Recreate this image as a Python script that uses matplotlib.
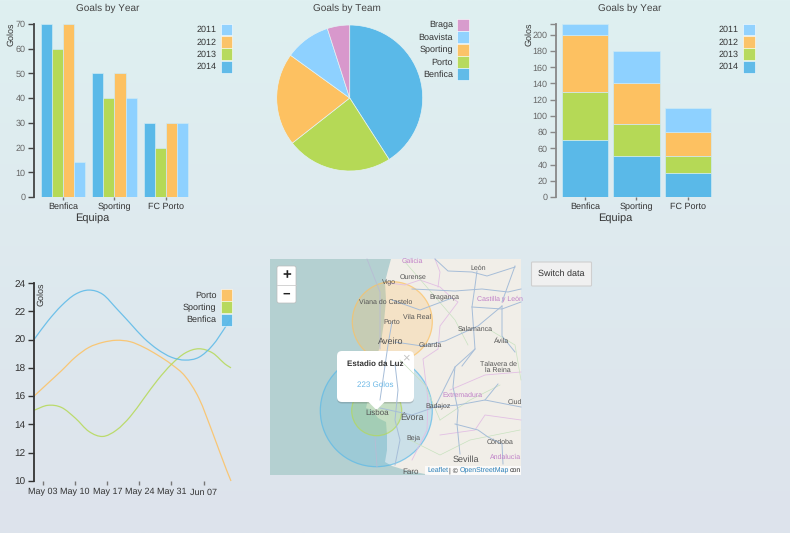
""" Dashboard: goals by year, by team, over time, and the stadium map. """

""" IMPORTS """
import numpy as np
import pandas as pd
import matplotlib
matplotlib.use("Agg")
import matplotlib.pyplot as plt
import matplotlib.dates as mdates
from matplotlib.path import Path
from matplotlib.patches import Rectangle, Circle, Polygon, FancyBboxPatch, PathPatch


""" DATA """
teams = ["Benfica", "Sporting", "FC Porto"]
years = ["2014", "2013", "2012", "2011"]
goals_2014 = [70, 50, 30]
goals_2013 = [60, 40, 20]
goals_2012 = [70, 50, 30]
goals_2011 = [14, 40, 30]

pie_teams = ["Benfica", "Porto", "Sporting", "Boavista", "Braga"]
pie_goals = [223, 128, 112, 55, 27]

# one reading every 3 days from May 1st, last one Jun 13
line_days = [0, 3, 6, 9, 12, 15, 18, 21, 24, 27, 30, 33, 36, 39, 42, 43]
benfica = [20, 21.3, 22.4, 23.2, 23.5, 23.2, 22.2, 21.15, 20.1, 19.3, 18.75, 18.55, 18.75, 19.6, 21.0, 21.5]
sporting = [15, 15.35, 15.2, 14.45, 13.5, 13.15, 13.6, 14.55, 15.85, 17.15, 18.25, 19.05, 19.35, 19.05, 18.2, 18]
porto = [16, 16.9, 17.8, 18.75, 19.45, 19.8, 19.95, 19.85, 19.45, 18.9, 18.25, 17.4, 15.85, 13.4, 10.8, 10]

W, H = 790, 533
BLUE, GREEN, ORANGE, SKY, PINK = "#5ab9e8", "#b5d956", "#fdc161", "#8ed1ff", "#d898cc"
year_colors = [BLUE, GREEN, ORANGE, SKY]
team_colors = [BLUE, GREEN, ORANGE, SKY, PINK]
DARK = "#333333"
MAP_TEXT = "#555555"
MAP_PURPLE = "#c080c8"

# map geometry, in figure pixels
coast = [(391, 259), (388, 270), (385, 282), (386, 300), (384, 322), (381, 342), (376, 360), (372, 378),
         (369, 395), (366, 408), (372, 410), (378, 418), (386, 422), (387, 435), (387, 450), (385, 462),
         (392, 466), (405, 470), (420, 473), (430, 475), (521, 475), (521, 259)]
blue_roads = [
    [(435, 259), (448, 271), (472, 272), (487, 276), (515, 267)],
    [(477, 271), (475, 286), (472, 307), (475, 349), (462, 366)],
    [(412, 289), (455, 291), (482, 289), (508, 292), (521, 289)],
    [(472, 307), (502, 309), (521, 302)],
    [(502, 306), (478, 326), (445, 341), (422, 346), (395, 342)],
    [(502, 306), (502, 336), (515, 352)],
    [(515, 266), (502, 302)],
    [(455, 367), (453, 387), (458, 410), (457, 424), (460, 454)],
    [(455, 424), (478, 430), (488, 437), (502, 444), (503, 464)],
    [(435, 407), (458, 405), (485, 400), (521, 407)],
    [(498, 384), (485, 400)],
    [(475, 349), (455, 367), (435, 407)],
    [(395, 364), (398, 390), (395, 420), (400, 440), (395, 465)],
    [(380, 408), (412, 415), (438, 406)],
    [(392, 322), (388, 345), (380, 400)],
    [(392, 300), (420, 310), (452, 298)],
]
green_roads = [
    [(405, 262), (425, 285), (455, 320), (468, 345)],
    [(490, 330), (515, 345), (521, 380)],
    [(440, 420), (470, 400), (500, 385)],
    [(410, 440), (440, 455), (470, 440), (520, 430)],
    [(400, 360), (425, 385), (440, 420)],
]
pink_borders = [
    [(388, 283), (405, 285), (420, 280), (440, 287), (452, 298), (458, 302), (440, 326), (438, 349),
     (423, 359), (428, 400), (427, 430), (412, 460)],
    [(435, 259), (440, 272), (438, 287)],
    [(450, 390), (485, 375), (521, 372)],
    [(440, 435), (475, 430), (485, 415), (521, 420)],
]
sea_border = [[(367, 259), (380, 292), (380, 349)], [(375, 437), (377, 467)]]
map_labels = [
    ("Galicia", 412, 261, 5, MAP_PURPLE), ("Ourense", 413, 277, 5, MAP_TEXT), ("Vigo", 389, 282, 5, MAP_TEXT),
    ("León", 478, 268, 5, MAP_TEXT), ("Viana do Castelo", 386, 302, 5, MAP_TEXT), ("Bragança", 444, 298, 5, MAP_TEXT),
    ("Castilla y León", 500, 299, 5, MAP_PURPLE), ("Vila Real", 417, 317, 5, MAP_TEXT), ("Porto", 392, 322, 5, MAP_TEXT),
    ("Salamanca", 475, 329, 5, MAP_TEXT), ("Aveiro", 391, 342, 6.5, MAP_TEXT), ("Guarda", 430, 345, 5, MAP_TEXT),
    ("Ávila", 502, 341, 5, MAP_TEXT), ("Talavera de", 498, 364, 5, MAP_TEXT), ("la Reina", 498, 370, 5, MAP_TEXT),
    ("Lisboa", 377, 413, 6, MAP_TEXT), ("Évora", 412, 418, 6.5, MAP_TEXT), ("Badajoz", 438, 406, 5, MAP_TEXT),
    ("Extremadura", 462, 395, 5, MAP_PURPLE), ("Ciud", 515, 402, 5, MAP_TEXT), ("Beja", 413, 438, 5, MAP_TEXT),
    ("Córdoba", 500, 442, 5, MAP_TEXT), ("Andalucía", 506, 457, 5, MAP_PURPLE), ("Sevilla", 466, 460, 6.5, MAP_TEXT),
    ("Faro", 411, 472, 6, MAP_TEXT),
]
stadiums = [(392.3, 321.7, 40, ORANGE), (376.3, 410.7, 56, BLUE), (376.7, 410.7, 25, GREEN)]


""" FUNCTIONS """
def ax_px(fig, left, top, right, bottom, **kwargs):
    ax = fig.add_axes([left / W, 1 - bottom / H, (right - left) / W, (bottom - top) / H], **kwargs)
    ax.patch.set_alpha(0)
    return ax


def style_axis(ax, color):
    for side in ("top", "right"):
        ax.spines[side].set_visible(False)
    ax.spines["left"].set_color(color)
    ax.spines["left"].set_linewidth(1.3)
    ax.tick_params(axis="y", which="both", length=4, width=1, color=color, labelsize=6.5, labelcolor="#666666", pad=2)


def swatches(top_ax, names, colors, x, y0, step, gap=4):
    for k, (name, color) in enumerate(zip(names, colors)):
        top_ax.add_patch(Rectangle((x, y0 + k * step), 11.5, step - 0.5, fc=color, ec="white", lw=0.4, alpha=0.95))
        top_ax.text(x - gap, y0 + k * step + step / 2, name, ha="right", va="center", fontsize=6.5, color=DARK)


def bar_frame(ax):
    ax.spines["bottom"].set_visible(False)
    ax.set_xticks(range(len(teams)), teams)
    ax.tick_params(axis="x", length=2, width=1, color="#777777", labelsize=6.5, labelcolor=DARK, pad=2)


# The original curves are smoothed, so the readings are joined with bezier segments.
def smooth_line(ax, days, values, color):
    x = mdates.date2num(pd.Timestamp("2014-05-01") + pd.to_timedelta(days, unit="D"))
    y = np.array(values, dtype=float)
    slopes = np.gradient(y, x)
    verts = [(x[0], y[0])]
    codes = [Path.MOVETO]
    for i in range(len(x) - 1):
        dx = (x[i + 1] - x[i]) / 3
        verts += [(x[i] + dx, y[i] + slopes[i] * dx),
                  (x[i + 1] - dx, y[i + 1] - slopes[i + 1] * dx),
                  (x[i + 1], y[i + 1])]
        codes += [Path.CURVE4] * 3
    ax.add_patch(PathPatch(Path(verts, codes), fc="none", ec=color, lw=0.9, alpha=0.85, clip_on=False))


""" FIGURE """
plt.rcParams["font.family"] = ["Liberation Sans", "DejaVu Sans"]
plt.rcParams["text.hinting"] = "no_hinting"
plt.rcParams["text.hinting_factor"] = 1
fig = plt.figure(figsize=(W / 100, H / 100), dpi=100)

# page gradient, top to bottom
bg = ax_px(fig, 0, 0, W, H, zorder=0)
bg.axis("off")
top_rgb, bot_rgb = np.array([223, 240, 241]) / 255, np.array([221, 227, 236]) / 255
ramp = np.linspace(0, 1, 256)[:, None, None]
bg.imshow(top_rgb + (bot_rgb - top_rgb) * ramp, aspect="auto", extent=[0, W, H, 0])

# overlay in figure pixels, for the titles, legends and the map
top = ax_px(fig, 0, 0, W, H, zorder=3)
top.set_xlim(0, W)
top.set_ylim(H, 0)
top.axis("off")

# grouped bars
ax1 = ax_px(fig, 34, 24, 195, 197, zorder=1)
group = [goals_2014, goals_2013, goals_2012, goals_2011]
bar_w = 0.216
for k, values in enumerate(group):
    xs = np.arange(len(teams)) + (k - 1.5) * bar_w
    ax1.bar(xs, values, bar_w, color=year_colors[k], edgecolor="#cdeaf5", linewidth=0.5)
ax1.set_xlim(-0.563, 2.563)
ax1.set_ylim(0, 70)
ax1.set_yticks(range(0, 71, 10))
style_axis(ax1, "#444444")
bar_frame(ax1)

# pie
ax2 = ax_px(fig, 276.7, 25, 422.7, 171, zorder=1)
ax2.pie(pie_goals, colors=team_colors, startangle=90, counterclock=False, radius=1,
        wedgeprops={"edgecolor": "#e4f2f4", "linewidth": 0.5})
ax2.set_xlim(-1, 1)
ax2.set_ylim(-1, 1)

# stacked bars
ax3 = ax_px(fig, 555.7, 23.5, 717, 197, zorder=1)
bottom = np.zeros(len(teams))
for k, values in enumerate(group):
    ax3.bar(range(len(teams)), values, 0.895, bottom=bottom, color=year_colors[k], edgecolor="#cdeaf5", linewidth=0.5)
    bottom += np.array(values)
ax3.set_xlim(-0.57, 2.565)
ax3.set_ylim(0, 214)
ax3.set_yticks(range(0, 201, 20))
ax3.set_yticks([214], minor=True)
style_axis(ax3, "#888888")
bar_frame(ax3)

# lines
ax4 = ax_px(fig, 34, 283, 231, 481, zorder=1)
ax4.set_xlim(pd.Timestamp("2014-05-01"), pd.Timestamp("2014-06-13"))
ax4.set_ylim(10, 24)
smooth_line(ax4, line_days, porto, ORANGE)
smooth_line(ax4, line_days, sporting, GREEN)
smooth_line(ax4, line_days, benfica, BLUE)
ax4.set_yticks(range(10, 25, 2))
style_axis(ax4, "#333333")
ax4.tick_params(axis="y", labelcolor=DARK, labelsize=7)
ax4.spines["bottom"].set_visible(False)
ax4.set_xticks(pd.date_range("2014-05-03", "2014-06-07", freq="7D"))
ax4.xaxis.set_major_formatter(mdates.DateFormatter("%b %d"))
ax4.tick_params(axis="x", length=3, width=1, color="#777777", labelsize=6.5, labelcolor=DARK, pad=2)

# titles and axis names
for x, title in [(108, "Goals by Year"), (347, "Goals by Team"), (630, "Goals by Year")]:
    top.text(x, 8, title, ha="center", va="center", fontsize=7.5, color="#444444")
for x in (92, 615):
    top.text(x, 218.5, "Equipa", ha="center", va="center", fontsize=8, color=DARK)
top.text(11.5, 34, "Golos", rotation=90, ha="center", va="center", fontsize=6.5, color=DARK)
top.text(529, 34, "Golos", rotation=90, ha="center", va="center", fontsize=6.5, color=DARK)
top.text(41, 294, "Golos", rotation=90, ha="center", va="center", fontsize=6.5, color=DARK)

# legends
legend_years = years[::-1]
legend_colors = year_colors[::-1]
swatches(top, legend_years, legend_colors, 220.5, 23.5, 12.4)
swatches(top, legend_years, legend_colors, 743, 23.5, 12.4)
swatches(top, pie_teams[::-1], team_colors[::-1], 457, 19, 12.35)
swatches(top, ["Porto", "Sporting", "Benfica"], [ORANGE, GREEN, BLUE], 220.5, 289, 12.4)

# map
top.add_patch(Rectangle((270, 259), 251, 216, fc="#b4d0d1", ec="none"))
top.add_patch(Polygon(coast, fc="#f1eee8", ec="none"))
for road in sea_border:
    top.plot(*zip(*road), color="#b8bcd4", lw=0.6)
for road in pink_borders:
    top.plot(*zip(*road), color="#e2bfe4", lw=0.6)
for road in green_roads:
    top.plot(*zip(*road), color="#c8e2c0", lw=0.5)
for road in blue_roads:
    top.plot(*zip(*road), color="#a6bdd8", lw=0.7)
for name, x, y, size, color in map_labels:
    top.text(x, y, name, ha="center", va="center", fontsize=size, color=color)
for x, y, r, color in stadiums:
    top.add_patch(Circle((x, y), r, fc=color, ec="none", alpha=0.25))
    top.add_patch(Circle((x, y), r, fc="none", ec=color, lw=0.9, alpha=0.7))

# zoom control
top.add_patch(FancyBboxPatch((277, 266), 19, 37, boxstyle="round,pad=0,rounding_size=2", fc="white", ec="#bbbbbb", lw=0.5))
top.plot([277, 296], [284.5, 284.5], color="#cccccc", lw=0.6)
top.text(286.5, 275, "+", ha="center", va="center", fontsize=11, fontweight="bold", color="#222222")
top.text(286.5, 294, "−", ha="center", va="center", fontsize=9, fontweight="bold", color="#222222")

# popup
top.add_patch(FancyBboxPatch((337, 352.5), 77, 51, boxstyle="round,pad=0,rounding_size=5", fc="#555555", ec="none", alpha=0.25))
top.add_patch(FancyBboxPatch((337, 351), 77, 51, boxstyle="round,pad=0,rounding_size=5", fc="white", ec="none"))
top.add_patch(Polygon([(368.5, 402), (384.5, 402), (376.5, 410)], fc="white", ec="none"))
top.text(375.5, 364, "Estadio da Luz", ha="center", va="center", fontsize=5.5, fontweight="bold", color=DARK)
top.text(375.5, 385, "223 Golos", ha="center", va="center", fontsize=5.5, color="#6cb8e6")
top.text(406, 358, "×", ha="center", va="center", fontsize=9, color="#c4c4c4")

# attribution
top.add_patch(Rectangle((425, 466), 96, 9, fc="white", ec="none", alpha=0.75))
top.text(427, 470.5, "Leaflet", ha="left", va="center", fontsize=5, color="#2a7fb8")
top.text(449, 470.5, "| ©", ha="left", va="center", fontsize=5, color=DARK)
top.text(460, 470.5, "OpenStreetMap", ha="left", va="center", fontsize=5, color="#2a7fb8")
top.text(510, 470.5, "con", ha="left", va="center", fontsize=5, color=DARK)

# button
top.add_patch(FancyBboxPatch((531.5, 262), 60, 24, boxstyle="round,pad=0,rounding_size=1", fc="#f0f0f0", ec="#cfcfcf", lw=0.8))
top.text(561.5, 273.5, "Switch data", ha="center", va="center", fontsize=6.5, color=DARK)

fig.savefig("out.png", dpi=100)
